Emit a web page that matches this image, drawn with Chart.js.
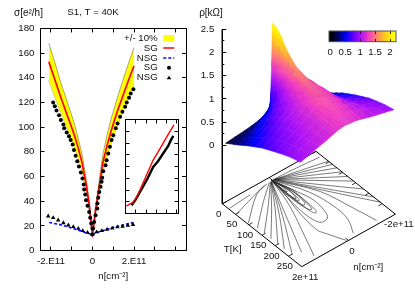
<!DOCTYPE html>
<html>
<head>
<meta charset="utf-8">
<script src="https://cdn.jsdelivr.net/npm/chart.js@4"></script>
<style>
  body { margin: 0; background: #fff; }
  canvas { position: absolute; filter: blur(0.3px); }
  #surfaceChart { filter: blur(0.45px); }
</style>
</head>
<body>
<canvas id="mainChart" width="198" height="290" style="left:0;top:0"></canvas>
<canvas id="surfaceChart" width="225" height="290" style="left:190px;top:0"></canvas>
<canvas id="insetChart" width="56" height="97" style="left:124px;top:118px;background:#fff"></canvas>
<canvas id="barChart" width="76" height="35" style="left:325px;top:25px"></canvas>
<script>
// conductivity vs density, n in units of 1e11
const modelN = [-2.1, -1.8, -1.5, -1.2, -0.9, -0.7, -0.5, -0.3, -0.15, -0.05, 0, 0.05, 0.15, 0.3, 0.5, 0.7, 0.9, 1.2, 1.5, 1.8, 2];
const modelSG = [153, 138, 123, 109, 95, 84, 71, 53, 36, 20, 14, 19, 33, 49, 71, 85, 97, 113, 127, 141, 149.5];
const bandUpper = [168, 152, 135, 120, 104.5, 92, 78, 58, 40, 22, 15.5, 21, 36, 54, 78, 93.5, 107, 124, 140, 155, 164.5];
const bandLower = [138, 124, 111, 98, 85.5, 76, 64, 48, 32, 18, 12.6, 17, 30, 44, 64, 76.5, 87, 102, 114, 127, 134.5];
const modelNsgN = [-2.08, -1.56, -0.92, -0.35, 0, 0.2, 0.92, 1.97];
const modelNSG = [22.7, 21, 17.8, 14.6, 13, 14.5, 18.4, 22.7];
const dotN = [-1.89, -1.81, -1.73, -1.61, -1.52, -1.4, -1.36, -1.24, -1.13, -1.05, -0.95, -0.89, -0.81, -0.73, -0.65, -0.56, -0.48, -0.42, -0.4, -0.35, -0.31, -0.24, -0.16, -0.11, -0.06, 0, -0.01, 0.03, 0.08, 0.15, 0.23, 0.24, 0.28, 0.33, 0.39, 0.44, 0.47, 0.52, 0.63, 0.68, 0.76, 0.84, 0.92, 1, 1.12, 1.21, 1.33, 1.44, 1.57, 1.65, 1.76, 1.84, 1.97];
const dotSG = [120, 117, 113.5, 109.7, 105.7, 102.2, 99, 95.7, 92.7, 89.5, 86, 81.4, 76.8, 72.4, 68.1, 63.2, 58.4, 53.5, 49.4, 45.4, 40.8, 36.2, 31.3, 26.5, 21.9, 17.8, 13, 17.8, 23.2, 28.6, 34, 38.1, 42.7, 47.5, 51.6, 55.7, 58.9, 64.3, 69.2, 73.2, 78.7, 84, 89.5, 93.5, 99, 103, 108.4, 112.4, 116.5, 120, 123.8, 127.3, 130.8];
const triN = [-2.13, -1.89, -1.65, -1.4, -1.16, -0.92, -0.68, -0.47, -0.24, 0, 0.2, 0.45, 0.7, 0.95, 1.2, 1.45, 1.7, 1.95];
const triNSG = [27.8, 26.5, 24.6, 22.4, 20.5, 19.2, 17.8, 16, 14.6, 13, 15, 16, 17, 18, 19, 19.5, 20.3, 21];
const nTicks = [-2, -1, 0, 1, 2, 3, 4];
const nTickLabels = { "-2": "-2.E11", "0": "0", "2": "2.E11" };
const sigmaTicks = [0, 20, 40, 60, 80, 100, 120, 140, 160, 180];
const legendLabels = ["+/- 10%", "SG", "NSG", "SG", "NSG"];

// inset
const insetRedX = [0.03, 0.22, 0.32, 0.42, 0.6, 0.81, 1.01, 1.21, 1.416];
const insetRedY = [12.5, 19.4, 27.4, 39.5, 63.5, 91, 110.6, 131, 151];
const insetBlackX = [0.18, 0.3, 0.42, 0.63, 0.81, 0.95, 1.11, 1.25, 1.32, 1.4];
const insetBlackY = [13.7, 24, 36.5, 58, 79.4, 89, 103, 115, 124, 132];
const insetXTicks = [0, 0.3, 0.6, 0.9, 1.2, 1.5];
const insetYTicks = [0, 20, 40, 60, 80, 100, 120, 140, 160];

// resistivity surface, rows by temperature, columns by density
const gridN = [2, 1.6, 1.2, 0.9, 0.6, 0.4, 0.25, 0.15, 0.08, 0.03, 0, -0.03, -0.08, -0.15, -0.25, -0.4, -0.6, -0.9, -1.2, -1.6, -2];
const gridT = [12, 20, 30, 45, 60, 80, 100, 125, 150, 175, 200, 230, 260, 295];
const rho = [
  [.10, .12, .14, .16, .19, .20, .22, .27, .50, 1.20, 2.12, 1.60, .70, .35, .25, .20, .18, .16, .13, .11, .09],
  [.13, .15, .17, .20, .25, .30, .36, .52, 1.00, 1.70, 2.12, 2.00, 1.10, .60, .40, .28, .22, .20, .17, .14, .12],
  [.17, .20, .24, .30, .36, .44, .55, .75, 1.20, 1.75, 2.08, 2.00, 1.45, .88, .60, .42, .31, .26, .22, .18, .16],
  [.22, .27, .33, .40, .48, .60, .72, .95, 1.30, 1.70, 1.98, 1.92, 1.60, 1.18, .90, .66, .52, .36, .30, .25, .21],
  [.28, .33, .41, .50, .60, .74, .88, 1.05, 1.35, 1.62, 1.82, 1.78, 1.62, 1.36, 1.10, .88, .66, .47, .38, .31, .27],
  [.36, .42, .53, .65, .77, .92, 1.02, 1.20, 1.38, 1.55, 1.68, 1.66, 1.58, 1.46, 1.27, 1.08, .86, .62, .50, .42, .36],
  [.44, .52, .63, .75, .88, 1.02, 1.12, 1.28, 1.42, 1.50, 1.57, 1.56, 1.52, 1.47, 1.35, 1.20, 1.00, .74, .60, .50, .45],
  [.53, .62, .75, .87, .98, 1.10, 1.20, 1.32, 1.40, 1.45, 1.48, 1.48, 1.46, 1.43, 1.36, 1.28, 1.13, .86, .71, .60, .54],
  [.62, .72, .84, .97, 1.06, 1.16, 1.25, 1.32, 1.38, 1.41, 1.42, 1.42, 1.41, 1.39, 1.34, 1.29, 1.18, .96, .80, .68, .63],
  [.69, .79, .91, 1.01, 1.10, 1.20, 1.27, 1.32, 1.36, 1.37, 1.38, 1.38, 1.37, 1.36, 1.32, 1.28, 1.20, 1.03, .88, .76, .71],
  [.76, .85, .96, 1.04, 1.12, 1.21, 1.27, 1.30, 1.32, 1.33, 1.33, 1.33, 1.33, 1.32, 1.29, 1.26, 1.19, 1.07, .94, .83, .79],
  [.84, .92, 1.00, 1.07, 1.14, 1.21, 1.25, 1.27, 1.28, 1.29, 1.29, 1.29, 1.29, 1.28, 1.26, 1.23, 1.18, 1.10, 1.00, .91, .86],
  [.91, .98, 1.04, 1.09, 1.15, 1.20, 1.23, 1.24, 1.25, 1.25, 1.25, 1.25, 1.25, 1.24, 1.23, 1.21, 1.17, 1.11, 1.05, .97, .92],
  [.97, 1.02, 1.08, 1.12, 1.17, 1.20, 1.21, 1.22, 1.22, 1.22, 1.22, 1.21, 1.21, 1.20, 1.20, 1.19, 1.16, 1.11, 1.07, 1.02, .97]
];

// contour lines on the base plane, [n, T] pairs
const contours = [
  [[1.02, 18], [1.95, 24]],
  [[0.35, 14], [1.09, 30], [1.92, 50]],
  [[0.24, 14], [0.86, 28.5], [1.96, 95]],
  [[0.15, 14], [0.9, 58], [1.89, 123]],
  [[0.12, 15], [0.88, 75], [1.88, 148]],
  [[0.1, 15], [0.9, 89], [1.89, 174]],
  [[0.09, 15], [0.82, 95], [1.88, 199]],
  [[0.08, 15], [0.88, 115], [1.87, 223]],
  [[0.07, 15], [0.85, 125], [1.86, 252]],
  [[0.06, 14], [0.87, 147], [1.55, 260]],
  [[0.04, 13], [0.08, 29], [0.39, 113], [0.97, 221], [1.35, 289]],
  [[0.03, 13], [0.06, 46], [0.34, 140], [0.46, 220], [0.36, 243], [0.05, 297]],
  [[0.03, 12], [0.14, 66], [0.25, 138], [0.23, 187], [0.1, 207], [-0.17, 205], [-0.33, 182], [-0.4, 131], [-0.25, 82], [0.03, 12]],
  [[0.03, 12], [0.05, 95], [0.03, 157], [-0.04, 172], [-0.13, 165], [-0.17, 133], [-0.16, 77], [0.03, 12]],
  [[0.03, 12], [0.1, 70], [0.08, 125], [0.02, 150], [-0.08, 155], [-0.16, 110], [-0.2, 70], [0.03, 12]],
  [[0.03, 12], [0.08, 70], [0.06, 115], [0, 132], [-0.1, 125], [-0.15, 70], [0.03, 12]],
  [[0.03, 12], [0.06, 60], [0.04, 95], [-0.02, 100], [-0.1, 70], [0.03, 12]],
  [[0.03, 12], [-0.08, 60], [-0.07, 105], [0, 112], [0.03, 100], [0.05, 55], [0.03, 12]],
  [[0.02, 12], [-0.03, 40], [-0.01, 68], [0.03, 62], [0.02, 12]],
  [[0, 13], [-0.55, 105], [-0.72, 191], [-0.64, 242], [-0.35, 287]],
  [[0, 13], [-0.83, 118], [-1.14, 217], [-1.33, 288]],
  [[-0.1, 12], [-1, 16], [-1.9, 22]],
  [[-0.05, 13], [-1, 29], [-2, 47]],
  [[-0.05, 13], [-1, 36], [-2, 62]],
  [[-0.05, 13], [-1, 44], [-2, 79]],
  [[-0.05, 13], [-1, 54], [-2, 98]],
  [[-0.05, 13], [-1, 65], [-2, 120]],
  [[-0.05, 13], [-1, 76], [-2, 142]],
  [[-0.05, 13], [-1, 95], [-2, 180]],
  [[-0.05, 13], [-1, 113], [-2, 218]],
  [[-0.05, 13], [-1, 126], [-2, 243]]
];
const tempTicks = [0, 50, 100, 150, 200, 250];
const densityTicks = [2, 0, -2];
const densityTickLabels = ["2e+11", "0", "-2e+11"];
const rhoTicks = [0, 0.5, 1, 1.5, 2, 2.5];
const rhoMinorTicks = [0.25, 0.75, 1.25, 1.75, 2.25];
const barTicks = [0, 0.5, 1, 1.5, 2];

// colour palette
const paletteStops = [0, 0.25, 0.5, 0.75, 1, 1.25, 1.5, 1.75, 2, 2.2];
const paletteColors = [[0, 0, 0], [0, 0, 110], [0, 0, 255], [100, 0, 255], [175, 20, 245], [240, 60, 195], [255, 125, 115], [255, 190, 40], [255, 240, 0], [255, 255, 60]];

Chart.defaults.font.family = "'Liberation Sans', Arial, sans-serif";
Chart.defaults.font.size = 9.7;
Chart.defaults.color = "#111";
Chart.defaults.animation = false;
Chart.defaults.responsive = false;
Chart.defaults.devicePixelRatio = 1;
Chart.defaults.plugins.legend.display = false;
Chart.defaults.plugins.tooltip.enabled = false;

function pairs(xs, ys) {
  return xs.map((x, i) => ({ x, y: ys[i] }));
}

function tickAxis(position, values, extra) {
  return Object.assign({
    type: "linear",
    position,
    afterBuildTicks: s => { s.ticks = values.map(v => ({ value: v })); },
    afterFit: s => {
      if (s.isHorizontal()) s.height = 0; else s.width = 0;
      s.paddingTop = s.paddingBottom = s.paddingLeft = s.paddingRight = 0;
    },
    grid: { drawOnChartArea: false, tickLength: -4, color: "#000", tickColor: "#000" },
    border: { color: "#000", width: 1 },
    ticks: { display: false, autoSkip: false, maxRotation: 0 }
  }, extra);
}

// MAIN PLOT
const legendPlugin = {
  id: "gnuplotLegend",
  afterDraw(chart) {
    const ctx = chart.ctx;
    const rowY = [38.3, 48, 58, 67.7, 77.7];
    ctx.save();
    ctx.font = "9.7px 'Liberation Sans'";
    ctx.textAlign = "right";
    ctx.textBaseline = "middle";
    ctx.fillStyle = "#111";
    legendLabels.forEach((t, i) => ctx.fillText(t, 157.7, rowY[i]));
    ctx.fillStyle = "#ffff00";
    ctx.fillRect(163.3, 35, 11, 6);
    ctx.lineWidth = 1.5;
    ctx.strokeStyle = "#ff0000";
    ctx.beginPath(); ctx.moveTo(163.3, rowY[1]); ctx.lineTo(174.3, rowY[1]); ctx.stroke();
    ctx.strokeStyle = "#0000ff";
    ctx.setLineDash([3, 2]);
    ctx.beginPath(); ctx.moveTo(163.3, rowY[2]); ctx.lineTo(174.3, rowY[2]); ctx.stroke();
    ctx.setLineDash([]);
    ctx.fillStyle = "#000";
    ctx.beginPath(); ctx.arc(169, rowY[3], 2, 0, Math.PI * 2); ctx.fill();
    ctx.beginPath();
    ctx.moveTo(169, rowY[4] - 2); ctx.lineTo(171.3, rowY[4] + 1.6); ctx.lineTo(166.7, rowY[4] + 1.6);
    ctx.fill();
    ctx.textAlign = "left";
    ctx.fillStyle = "#111";
    ctx.font = "10px 'Liberation Sans'";
    ctx.fillText("σ[e²/h]", 14, 13);
    ctx.restore();
  }
};

new Chart(document.getElementById("mainChart"), {
  type: "scatter",
  data: {
    datasets: [
      { data: pairs(triN, triNSG), pointStyle: "triangle", pointRadius: 2.6, pointBackgroundColor: "#000", pointBorderWidth: 0 },
      { data: pairs(dotN, dotSG), pointRadius: 2, pointBackgroundColor: "#000", pointBorderWidth: 0 },
      { data: pairs(modelNsgN, modelNSG), showLine: true, borderColor: "#0000ff", borderWidth: 1.6, borderDash: [3, 2], pointRadius: 0 },
      { data: pairs(modelN, modelSG), showLine: true, borderColor: "#ff0000", borderWidth: 1.7, pointRadius: 0 },
      { data: pairs(modelN, bandUpper), showLine: true, borderColor: "#555", borderWidth: 0.5, pointRadius: 0, backgroundColor: "#ffff00", fill: "+1" },
      { data: pairs(modelN, bandLower), showLine: true, borderColor: "#555", borderWidth: 0.5, pointRadius: 0 }
    ]
  },
  plugins: [legendPlugin],
  options: {
    layout: { padding: { right: 12 } },
    plugins: {
      title: { display: true, text: "S1, T = 40K", font: { size: 9.7, weight: "normal" }, padding: { top: 7, bottom: 9.8 }, color: "#111" }
    },
    scales: {
      x: tickAxis("bottom", nTicks, {
        min: -2.5, max: 4.5,
        afterFit: s => { s.height = 39.5; s.paddingLeft = s.paddingRight = 0; },
        ticks: { display: true, autoSkip: false, maxRotation: 0, padding: 9, callback: v => nTickLabels[v] || "" },
        title: { display: true, text: "n[cm⁻²]", padding: { top: 0, bottom: 8 } }
      }),
      xTop: tickAxis("top", nTicks, { min: -2.5, max: 4.5 }),
      y: tickAxis("left", sigmaTicks, {
        min: 0, max: 180,
        afterFit: s => { s.width = 40.5; s.paddingTop = s.paddingBottom = 0; },
        ticks: { display: true, autoSkip: false, padding: 10 }
      }),
      yRight: tickAxis("right", sigmaTicks, { min: 0, max: 180 })
    }
  }
});

// INSET
new Chart(document.getElementById("insetChart"), {
  type: "scatter",
  data: {
    datasets: [
      { data: pairs(insetRedX, insetRedY), showLine: true, borderColor: "#ff0000", borderWidth: 1.4, pointRadius: 0 },
      { data: pairs(insetBlackX, insetBlackY), showLine: true, borderColor: "#000", borderWidth: 2.4, pointRadius: 0 }
    ]
  },
  options: {
    layout: { padding: { left: 1.5, right: 1.5, top: 1.5, bottom: 1.5 } },
    scales: {
      x: tickAxis("bottom", insetXTicks, { min: 0, max: 1.55 }),
      xTop: tickAxis("top", insetXTicks, { min: 0, max: 1.55 }),
      y: tickAxis("left", insetYTicks, { min: 0, max: 160 }),
      yRight: tickAxis("right", insetYTicks, { min: 0, max: 160 })
    }
  }
});

// 3D SURFACE
function paletteColor(v) {
  let i = 0;
  while (i < paletteStops.length - 2 && v > paletteStops[i + 1]) i++;
  const f = Math.min(1, Math.max(0, (v - paletteStops[i]) / (paletteStops[i + 1] - paletteStops[i])));
  const c = paletteColors[i].map((a, k) => Math.round(a + (paletteColors[i + 1][k] - a) * f));
  return `rgb(${c[0]},${c[1]},${c[2]})`;
}

// orthographic view of (n, T, rho): x in pixels from the rho axis, y in rho units
function project(n, T, z) {
  return {
    x: (2 - n) / 4 * 93.7 + T / 300 * 79.4,
    y: z + ((2 - n) / 4 * 52.4 - T / 300 * 62.7) / 46.3
  };
}
const basePlane = -1.26;

// shade a cell from its lowest corner to its highest corner
function cellFill(chart, pts, zs) {
  const lo = zs.indexOf(Math.min(...zs));
  const hi = zs.indexOf(Math.max(...zs));
  const { x, y } = chart.scales;
  const ends = [x.getPixelForValue(pts[lo].x), y.getPixelForValue(pts[lo].y), x.getPixelForValue(pts[hi].x), y.getPixelForValue(pts[hi].y)];
  // scales are not laid out on the first options pass
  if (!ends.every(Number.isFinite)) return paletteColor(zs[lo]);
  const g = chart.ctx.createLinearGradient(ends[0], ends[1], ends[2], ends[3]);
  for (let s = 0; s <= 4; s++) {
    g.addColorStop(s / 4, paletteColor(zs[lo] + (zs[hi] - zs[lo]) * s / 4));
  }
  return g;
}

const surfaceSets = [];
for (let t = gridT.length - 2; t >= 0; t--) {
  for (let k = 0; k < gridN.length - 1; k++) {
    const cell = [[t, k], [t, k + 1], [t + 1, k + 1], [t + 1, k]];
    const zs = cell.map(c => rho[c[0]][c[1]]);
    const pts = cell.map(c => project(gridN[c[1]], gridT[c[0]], rho[c[0]][c[1]]));
    const fillStyle = ctx => cellFill(ctx.chart, pts, zs);
    surfaceSets.push({ data: pts.concat([pts[0]]), showLine: true, fill: "shape", backgroundColor: fillStyle, borderColor: fillStyle, borderWidth: 0.6, pointRadius: 0 });
  }
}

const onBase = pts => pts.map(p => project(p[0], p[1], basePlane));
const lineSet = (pts, width, color) => ({ data: pts, showLine: true, borderColor: color, borderWidth: width, pointRadius: 0 });
const baseSets = [
  lineSet(onBase([[2, 0], [-2, 0], [-2, 300], [2, 300], [2, 0]]), 1, "#000"),
  lineSet([project(2, 0, 2.5), project(2, 0, basePlane)], 1, "#000")
];
tempTicks.forEach(T => {
  baseSets.push(lineSet(onBase([[2, T], [1.84, T]]), 0.8, "#000"));
  baseSets.push(lineSet(onBase([[-2, T], [-1.84, T]]), 0.8, "#000"));
});
baseSets.push(lineSet(onBase([[0, 300], [0, 288]]), 0.8, "#000"));
baseSets.push(lineSet(onBase([[0, 0], [0, 12]]), 0.8, "#000"));
contours.forEach(c => baseSets.push(Object.assign(lineSet(onBase(c), 0.6, "#222"), { tension: 0.35 })));

const surfaceLabels = {
  id: "surfaceLabels",
  afterDraw(chart) {
    const { ctx, scales } = chart;
    const put = (text, p, dx, dy) => ctx.fillText(text, scales.x.getPixelForValue(p.x) + dx, scales.y.getPixelForValue(p.y) + dy);
    ctx.save();
    ctx.font = "9.7px 'Liberation Sans'";
    ctx.textAlign = "center";
    ctx.textBaseline = "middle";
    ctx.fillStyle = "#111";
    tempTicks.forEach(T => put(String(T), project(2, T, basePlane), -3.6, 10.3));
    densityTicks.forEach((n, i) => put(densityTickLabels[i], project(n, 300, basePlane), 3.5, 10.5));
    put("T[K]", project(2, 0, basePlane), 10.4, 45);
    put("n[cm⁻²]", project(2, 0, basePlane), 146, 63.7);
    ctx.font = "10px 'Liberation Sans'";
    put("ρ[kΩ]", project(2, 0, 2.5), -11.3, -16);
    ctx.restore();
  }
};

new Chart(document.getElementById("surfaceChart"), {
  type: "scatter",
  data: { datasets: surfaceSets.concat(baseSets) },
  plugins: [surfaceLabels],
  options: {
    clip: false,
    scales: {
      x: { type: "linear", display: false, min: 0, max: 192.7 },
      y: tickAxis("left", rhoTicks, {
        min: -3.117, max: 3.133,
        weight: 1,
        afterFit: s => { s.width = 32.3; s.paddingTop = s.paddingBottom = 0; },
        border: { display: false },
        ticks: { display: true, autoSkip: false, padding: 12, callback: v => String(v) }
      }),
      yMinor: tickAxis("left", rhoMinorTicks, {
        min: -3.117, max: 3.133,
        weight: 0,
        border: { display: false },
        grid: { drawOnChartArea: false, tickLength: -2, color: "#000", tickColor: "#000" }
      })
    }
  }
});

// COLOUR BAR
const barSets = [];
for (let l = -0.04; l < 2.2; l += 0.02) {
  barSets.push({ data: [[l, l + 0.025]], backgroundColor: paletteColor(l), grouped: false, barPercentage: 1, categoryPercentage: 1 });
}
const barFrame = {
  id: "barFrame",
  afterDraw(chart) {
    const { ctx, chartArea: a } = chart;
    ctx.strokeStyle = "#555";
    ctx.lineWidth = 1;
    ctx.strokeRect(a.left, a.top, a.width, a.height);
  }
};
new Chart(document.getElementById("barChart"), {
  type: "bar",
  data: { labels: ["rho"], datasets: barSets },
  plugins: [barFrame],
  options: {
    indexAxis: "y",
    layout: { padding: { left: 4, right: 5, top: 6 } },
    scales: {
      x: {
        type: "linear", min: -0.044, max: 2.2,
        afterBuildTicks: s => { s.ticks = barTicks.map(v => ({ value: v })); },
        afterFit: s => { s.height = 18.3; s.paddingLeft = s.paddingRight = 0; },
        grid: { z: 1, drawTicks: false, color: "#000", lineWidth: v => v.tick && v.tick.value === 0 ? 0 : 0.8 },
        border: { display: false, dash: [3, 5] },
        ticks: { padding: 5, autoSkip: false, maxRotation: 0, callback: v => String(v) }
      },
      y: { display: false }
    }
  }
});
</script>
</body>
</html>
